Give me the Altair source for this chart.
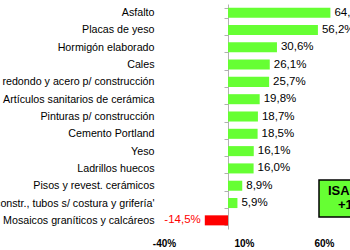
import altair as alt
import pandas as pd

categories = [
    "Asfalto",
    "Placas de yeso",
    "Hormigón elaborado",
    "Cales",
    "Hierro redondo y acero p/ construcción",
    "Artículos sanitarios de cerámica",
    "Pinturas p/ construcción",
    "Cemento Portland",
    "Yeso",
    "Ladrillos huecos",
    "Pisos y revest. cerámicos",
    "Art. p/ constr., tubos s/ costura y grifería'",
    "Mosaicos graníticos y calcáreos",
]
values = [64.0, 56.2, 30.6, 26.1, 25.7, 19.8, 18.7, 18.5, 16.1, 16.0, 8.9, 5.9, -14.5]
tick_values = [-40, 10, 60]
isa_lines = ["ISAC", "+12,8%"]

df = pd.DataFrame({"cat": categories, "val": values})
df["label"] = [f"{v:.1f}".replace(".", ",") + "%" for v in values]

FONT = "Liberation Sans"
GREEN = "#66ff33"
RED = "#ff0000"

y_enc = alt.Y(
    "cat:N",
    sort=categories,
    title=None,
    scale=alt.Scale(paddingInner=0.42, paddingOuter=0.21),
    axis=alt.Axis(
        offset=-64,
        labelPadding=70,
        tickSize=4,
        tickBand="extent",
        domainColor="#b0b0b0",
        tickColor="#b0b0b0",
        labelFont=FONT,
        labelFontSize=10.7,
        labelColor="black",
        labelLimit=0,
    ),
)
x_enc = alt.X(
    "val:Q",
    title=None,
    scale=alt.Scale(domain=[-40, 76.25], nice=False, zero=False),
    axis=alt.Axis(
        values=tick_values,
        labelExpr="datum.value + '%'",
        labelFlush=False,
        domain=False,
        ticks=False,
        tickSize=0,
        grid=False,
        labelPadding=9,
        labelFont=FONT,
        labelFontSize=10,
        labelFontWeight="bold",
        labelColor="black",
    ),
)

base = alt.Chart(df)

bars = base.mark_bar().encode(
    y=y_enc,
    x=x_enc,
    x2=alt.datum(0),
    color=alt.condition(alt.datum.val < 0, alt.value(RED), alt.value(GREEN)),
)

pos_text = base.transform_filter(alt.datum.val >= 0).mark_text(
    align="left", baseline="middle", dx=4, font=FONT, fontSize=11.5, color="black"
).encode(y=alt.Y("cat:N", sort=categories), x="val:Q", text="label:N")

neg_text = base.transform_filter(alt.datum.val < 0).mark_text(
    align="right", baseline="middle", dx=-4, font=FONT, fontSize=11.5, color=RED
).encode(y=alt.Y("cat:N", sort=categories), x="val:Q", text="label:N")

box_df = pd.DataFrame({"l1": [isa_lines[0]], "l2": [isa_lines[1]]})
box = alt.Chart(box_df).mark_rect(fill=GREEN, stroke="black", strokeWidth=1.5).encode(
    x=alt.value(155), x2=alt.value(240), y=alt.value(176), y2=alt.value(213)
)
box_t1 = alt.Chart(box_df).mark_text(
    align="left", baseline="middle", font=FONT, fontSize=13, fontWeight="bold", color="black"
).encode(x=alt.value(164), y=alt.value(187), text="l1:N")
box_t2 = alt.Chart(box_df).mark_text(
    align="left", baseline="middle", font=FONT, fontSize=13, fontWeight="bold", color="black"
).encode(x=alt.value(174), y=alt.value(201), text="l2:N")

chart = (
    alt.layer(bars, pos_text, neg_text, box, box_t1, box_t2)
    .properties(
        width=186,
        height=225,
        autosize=alt.AutoSizeParams(type="none"),
        padding={"left": 164, "top": 4, "right": 0, "bottom": 21},
        background="white",
    )
    .configure_view(stroke=None)
)

chart.save("out.html", embed_options={"renderer": "svg", "actions": False})
